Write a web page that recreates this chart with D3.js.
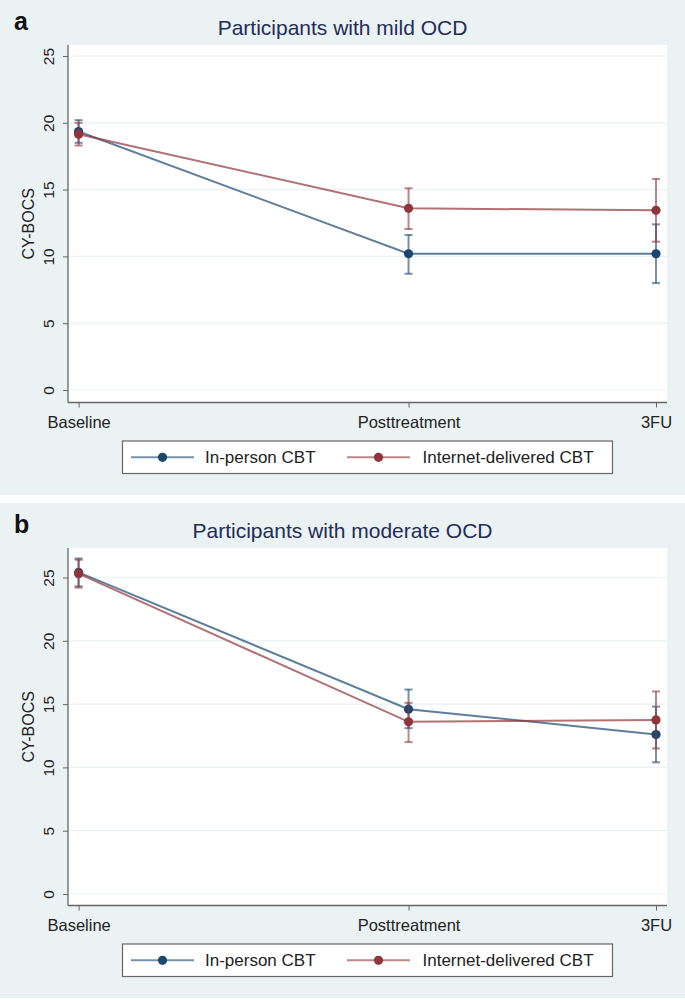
<!DOCTYPE html>
<html>
<head>
<meta charset="utf-8">
<script src="https://cdn.jsdelivr.net/npm/d3@7"></script>
<style>
body { margin: 0; background: #fff; }
text { font-family: "Liberation Sans", Arial, sans-serif; }
</style>
</head>
<body>
<script>
// time points (weeks from baseline, gives the uneven spacing on the x axis)
var timepoints = ['Baseline', 'Posttreatment', '3FU'];
var weeks = [0, 16, 28];
var yTicks = [0, 5, 10, 15, 20, 25];
var seriesNames = ['In-person CBT', 'Internet-delivered CBT'];

// panel a - mild OCD
var mildInPerson = [19.35, 10.2, 10.2];
var mildInPersonLo = [18.5, 8.7, 8.0];
var mildInPersonHi = [20.2, 11.6, 12.4];
var mildInternet = [19.15, 13.6, 13.45];
var mildInternetLo = [18.3, 12.05, 11.1];
var mildInternetHi = [20.0, 15.1, 15.8];

// panel b - moderate OCD
var modInPerson = [25.4, 14.6, 12.6];
var modInPersonLo = [24.3, 13.1, 10.4];
var modInPersonHi = [26.5, 16.15, 14.8];
var modInternet = [25.3, 13.6, 13.75];
var modInternetLo = [24.2, 12.0, 11.5];
var modInternetHi = [26.4, 15.1, 16.0];

var lineColor = ['#1a476f', '#90353b'];
var bg = '#eaf2f3';

var panels = [
    { label: 'a', title: 'Participants with mild OCD', top: 0, y0: 390, y25: 56,
      series: [[mildInPerson, mildInPersonLo, mildInPersonHi], [mildInternet, mildInternetLo, mildInternetHi]] },
    { label: 'b', title: 'Participants with moderate OCD', top: 503, y0: 391, y25: 74.5,
      series: [[modInPerson, modInPersonLo, modInPersonHi], [modInternet, modInternetLo, modInternetHi]] }
];

var W = 685, panelH = 495;
var plot = { left: 68, right: 667, top: 45, bottom: 402.5 };

var svg = d3.select('body').append('svg')
    .attr('width', W)
    .attr('height', 1000);

var x = d3.scaleLinear().domain([0, 28]).range([78.6, 656]);

panels.forEach(function (p) {
    var g = svg.append('g').attr('transform', 'translate(0,' + p.top + ')');
    var y = d3.scaleLinear().domain([0, 25]).range([p.y0, p.y25]);

    g.append('rect').attr('width', W).attr('height', panelH).attr('fill', bg);
    g.append('rect')
        .attr('x', plot.left).attr('y', plot.top)
        .attr('width', plot.right - plot.left).attr('height', plot.bottom - plot.top)
        .attr('fill', '#fff');

    g.append('text').attr('x', 14).attr('y', 30)
        .style('font-size', '25px').style('font-weight', 'bold').attr('fill', '#111')
        .text(p.label);
    g.append('text').attr('x', W / 2).attr('y', 35).attr('text-anchor', 'middle')
        .style('font-size', '21px').attr('fill', '#1f2d58')
        .text(p.title);

    // gridlines
    g.selectAll('.grid').data(yTicks).enter().append('line')
        .attr('x1', plot.left).attr('x2', plot.right)
        .attr('y1', function (d) { return y(d); }).attr('y2', function (d) { return y(d); })
        .attr('stroke', bg).attr('stroke-width', 1.2);

    // y axis
    var ya = g.append('g').attr('transform', 'translate(' + plot.left + ',0)')
        .call(d3.axisLeft(y).tickValues(yTicks).tickSize(5).tickSizeOuter(0));
    ya.select('.domain').remove();
    ya.selectAll('.tick line').attr('stroke', '#666');
    ya.selectAll('.tick text')
        .attr('x', 0).attr('dy', null)
        .attr('transform', 'translate(-20,0) rotate(-90)')
        .attr('text-anchor', 'middle').attr('dominant-baseline', 'central')
        .style('font-size', '15.5px').style('font-family', '"Liberation Sans", Arial, sans-serif')
        .attr('fill', '#222');
    g.append('line').attr('x1', plot.left).attr('x2', plot.left)
        .attr('y1', plot.top).attr('y2', plot.bottom)
        .attr('stroke', '#666').attr('stroke-width', 1.3);

    g.append('text')
        .attr('transform', 'translate(28,' + ((plot.top + plot.bottom) / 2) + ') rotate(-90)')
        .attr('text-anchor', 'middle').attr('dominant-baseline', 'central')
        .style('font-size', '16px').attr('fill', '#222')
        .text('CY-BOCS');

    // x axis
    var xa = g.append('g').attr('transform', 'translate(0,' + plot.bottom + ')')
        .call(d3.axisBottom(x).tickValues(weeks).tickSize(5).tickSizeOuter(0)
            .tickFormat(function (d, i) { return timepoints[i]; }));
    xa.select('.domain').remove();
    xa.selectAll('.tick line').attr('stroke', '#666');
    xa.selectAll('.tick text')
        .attr('y', 25).attr('dy', null)
        .style('font-size', '16.5px').style('font-family', '"Liberation Sans", Arial, sans-serif')
        .attr('fill', '#222');
    g.append('line').attr('x1', plot.left).attr('x2', plot.right)
        .attr('y1', plot.bottom).attr('y2', plot.bottom)
        .attr('stroke', '#666').attr('stroke-width', 1.3);

    // series
    p.series.forEach(function (s, k) {
        var pts = weeks.map(function (w, i) { return { w: w, m: s[0][i], lo: s[1][i], hi: s[2][i] }; });
        var sg = g.append('g');
        sg.append('path').datum(pts)
            .attr('d', d3.line().x(function (d) { return x(d.w); }).y(function (d) { return y(d.m); }))
            .attr('fill', 'none').attr('stroke', lineColor[k]).attr('stroke-width', 2).attr('stroke-opacity', 0.7);
        var bars = sg.selectAll('.bar').data(pts).enter().append('g')
            .attr('stroke', lineColor[k]).attr('stroke-width', 2).attr('stroke-opacity', 0.6);
        bars.append('line')
            .attr('x1', function (d) { return x(d.w); }).attr('x2', function (d) { return x(d.w); })
            .attr('y1', function (d) { return y(d.lo); }).attr('y2', function (d) { return y(d.hi); });
        bars.append('line')
            .attr('x1', function (d) { return x(d.w) - 4; }).attr('x2', function (d) { return x(d.w) + 4; })
            .attr('y1', function (d) { return y(d.lo); }).attr('y2', function (d) { return y(d.lo); });
        bars.append('line')
            .attr('x1', function (d) { return x(d.w) - 4; }).attr('x2', function (d) { return x(d.w) + 4; })
            .attr('y1', function (d) { return y(d.hi); }).attr('y2', function (d) { return y(d.hi); });
        sg.selectAll('circle').data(pts).enter().append('circle')
            .attr('cx', function (d) { return x(d.w); }).attr('cy', function (d) { return y(d.m); })
            .attr('r', 4.6).attr('fill', lineColor[k]);
    });

    // legend
    var lg = g.append('g');
    lg.append('rect').attr('x', 122.5).attr('y', 441).attr('width', 490).attr('height', 32.5)
        .attr('fill', '#fff').attr('stroke', '#666').attr('stroke-width', 1.2);
    var items = [{ x1: 131, xt: 205 }, { x1: 347, xt: 422.5 }];
    seriesNames.forEach(function (name, k) {
        var it = items[k];
        lg.append('line').attr('x1', it.x1).attr('x2', it.x1 + 63)
            .attr('y1', 457.3).attr('y2', 457.3)
            .attr('stroke', lineColor[k]).attr('stroke-width', 2).attr('stroke-opacity', 0.6);
        lg.append('circle').attr('cx', it.x1 + 31.5).attr('cy', 457.3).attr('r', 4.6).attr('fill', lineColor[k]);
        lg.append('text').attr('x', it.xt).attr('y', 457.3).attr('dominant-baseline', 'central')
            .style('font-size', '17px').attr('fill', '#222').text(name);
    });
});
</script>
</body>
</html>
